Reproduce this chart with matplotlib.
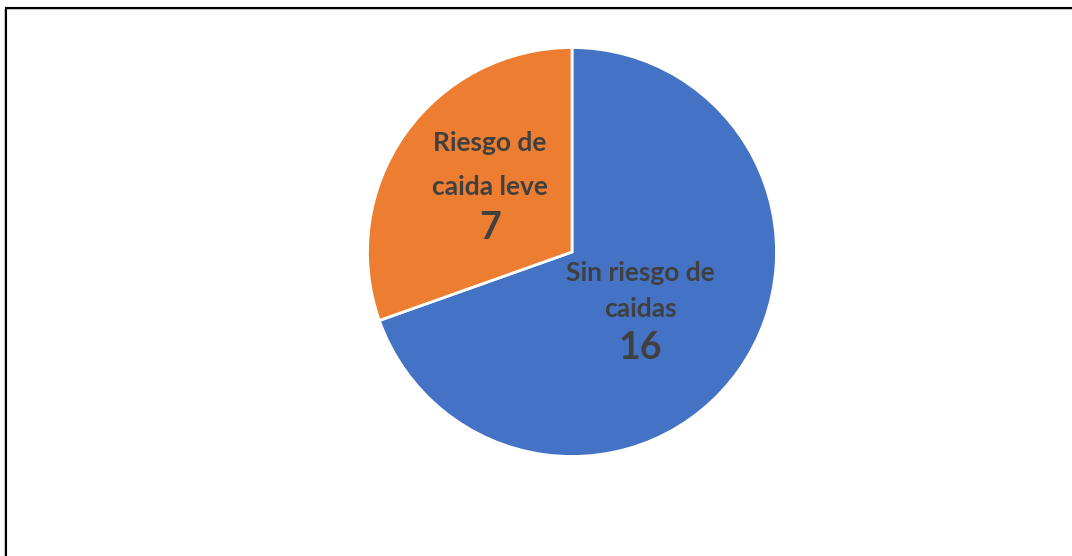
import matplotlib
matplotlib.use('Agg')
import matplotlib.pyplot as plt
from matplotlib.lines import Line2D

plt.rcParams['font.family'] = ['Lato', 'DejaVu Sans']

# Fall-risk groups and patient counts
categories = ['Sin riesgo de\ncaidas', 'Riesgo de\ncaida leve']
counts = [16, 7]
colors = ['#4472C4', '#ED7D31']
text_color = '#404040'

W, H = 1072, 556
fig = plt.figure(figsize=(W / 100, H / 100), dpi=100)
fig.patch.set_facecolor('white')

# square axes holding the pie
cx, cy, r = 572, 252, 204.5
ax = fig.add_axes([(cx - r) / W, (H - cy - r) / H, 2 * r / W, 2 * r / H])
wedges, _ = ax.pie(counts, colors=colors, startangle=90, counterclock=False,
                   radius=1, wedgeprops=dict(edgecolor='white', linewidth=2))
ax.set_xlim(-1, 1)
ax.set_ylim(-1, 1)
ax.set_aspect('equal')
ax.axis('off')

# label layout per slice: x, y of the name lines, y of the count
label_x = [0.333, -0.401]
name_y = [[-0.103, -0.277], [0.533, 0.318]]
count_y = [-0.467, 0.117]

for name, n, x, ys, yc in zip(categories, counts, label_x, name_y, count_y):
    for line, y in zip(name.split('\n'), ys):
        ax.text(x, y, line, ha='center', va='center', fontsize=19,
                fontweight='bold', color=text_color)
    ax.text(x, yc, str(n), ha='center', va='center',
            fontsize=27, fontweight='bold', color=text_color)

# partial outer frame (top and left edges)
fig.add_artist(Line2D([5.5 / W, 5.5 / W], [0, 1 - 7.5 / H], transform=fig.transFigure,
                      color='black', linewidth=1.5, solid_capstyle='projecting'))
fig.add_artist(Line2D([5.5 / W, 1], [1 - 7.5 / H, 1 - 7.5 / H], transform=fig.transFigure,
                      color='black', linewidth=1.5, solid_capstyle='projecting'))
fig.add_artist(Line2D([4 / W, 4 / W], [0, 1 - 9 / H], transform=fig.transFigure,
                      color='#c0c0c0', linewidth=0.7))
fig.add_artist(Line2D([7 / W, 1], [1 - 9 / H, 1 - 9 / H], transform=fig.transFigure,
                      color='#c0c0c0', linewidth=0.7))

fig.savefig('out.png', dpi=100, facecolor='white')
